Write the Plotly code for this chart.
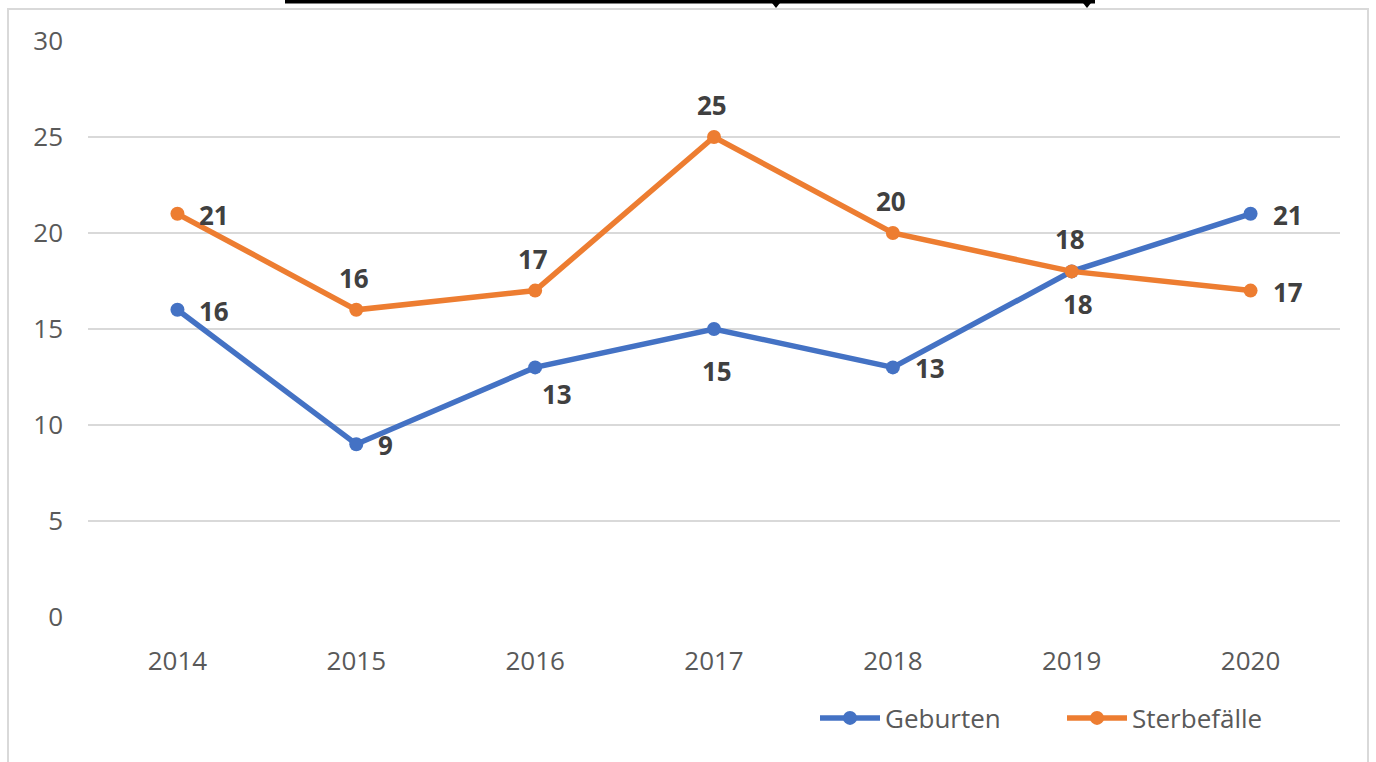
import plotly.graph_objects as go

years = ["2014", "2015", "2016", "2017", "2018", "2019", "2020"]
geburten = [16, 9, 13, 15, 13, 18, 21]
sterbefaelle = [21, 16, 17, 25, 20, 18, 17]
y_ticks = [0, 5, 10, 15, 20, 25, 30]

# label placement per point
geb_pos = ["r", "r", "br", "b2", "r", "b", "r"]
ster_pos = ["r", "a", "a", "a", "a", "a", "r"]

BLUE = "#4472C4"
ORANGE = "#ED7D31"
FONT = "Open Sans"

W, H = 1376, 762
L, T = 88, 41
R = W - 1340
B = H - 617
pw, ph = W - L - R, H - T - B

def px(x):
    return (x - L) / pw

def py(y):
    return (H - B - y) / ph

fig = go.Figure()
fig.add_trace(go.Scatter(x=years, y=geburten, name="Geburten", mode="lines+markers",
                         line=dict(color=BLUE, width=5.5), marker=dict(size=14, color=BLUE)))
fig.add_trace(go.Scatter(x=years, y=sterbefaelle, name="Sterbefälle", mode="lines+markers",
                         line=dict(color=ORANGE, width=5.5), marker=dict(size=14, color=ORANGE)))

OFFSETS = {
    "r": dict(xanchor="left", yanchor="middle", xshift=20, yshift=-1),
    "a": dict(xanchor="center", yanchor="middle", xshift=-2, yshift=32),
    "b": dict(xanchor="center", yanchor="middle", xshift=6, yshift=-33),
    "b2": dict(xanchor="center", yanchor="middle", xshift=3, yshift=-42),
    "br": dict(xanchor="center", yanchor="middle", xshift=22, yshift=-27),
}

def add_labels(vals, pos):
    for i, (v, p) in enumerate(zip(vals, pos)):
        # category axis: position by category index
        fig.add_annotation(x=i, y=v, xref="x", yref="y", text=f"<b>{v}</b>", showarrow=False,
                           font=dict(family=FONT, size=26, color="#404040"), **OFFSETS[p])

add_labels(geburten, geb_pos)
add_labels(sterbefaelle, ster_pos)

# outer border and top decoration
fig.add_shape(type="rect", xref="paper", yref="paper",
              x0=px(8), x1=px(1368), y0=py(800), y1=py(9),
              line=dict(color="#D9D9D9", width=2), layer="below")
fig.add_shape(type="line", xref="paper", yref="paper",
              x0=px(285), x1=px(1095), y0=py(1.5), y1=py(1.5),
              line=dict(color="black", width=4))
for xx in (776, 1087):
    fig.add_shape(type="path", xref="paper", yref="paper",
                  path=f"M {px(xx-4)},{py(3)} L {px(xx+4)},{py(3)} L {px(xx)},{py(8)} Z",
                  fillcolor="black", line=dict(color="black", width=0))

fig.update_layout(
    width=W, height=H,
    margin=dict(l=L, r=R, t=T, b=B),
    paper_bgcolor="white", plot_bgcolor="white",
    font=dict(family=FONT, size=26, color="#595959"),
    xaxis=dict(type="category", range=[-0.5, 6.5], showgrid=False, zeroline=False,
               showline=False, ticks="", tickfont=dict(size=26, color="#595959"), ticklabelstandoff=26),
    yaxis=dict(range=[0, 30], tickvals=y_ticks, showgrid=True, gridcolor="#D9D9D9", gridwidth=2,
               zeroline=False, showline=False, ticks="", tickfont=dict(size=26, color="#595959"),
               ticklabelstandoff=24),
    legend=dict(orientation="h", x=px(815), y=py(718), xanchor="left", yanchor="middle",
                font=dict(size=26, color="#595959"), itemwidth=60,
                entrywidth=172, entrywidthmode="pixels", bgcolor="rgba(0,0,0,0)"),
    showlegend=True,
)

fig.write_html("out.html", config={"displayModeBar": False},
               post_script="document.body.style.margin='0';document.body.style.overflow='hidden';")
